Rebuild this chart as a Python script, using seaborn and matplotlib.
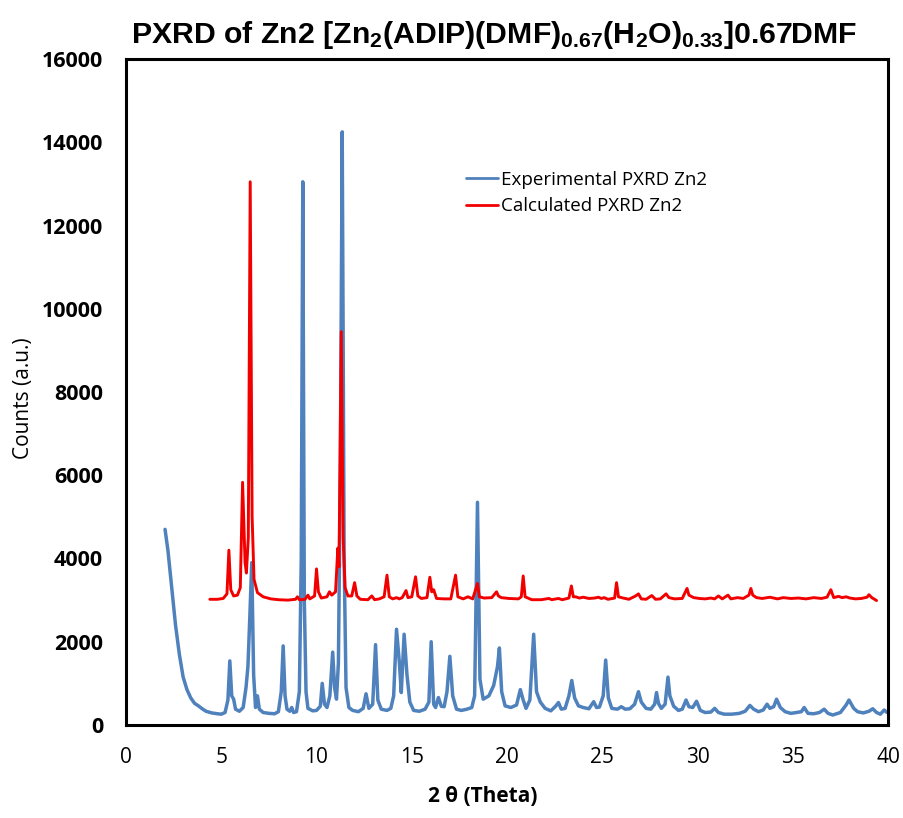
import matplotlib
matplotlib.use('Agg')
import matplotlib.pyplot as plt
import pandas as pd
import seaborn as sns

# experimental pattern (2theta, counts)
exp_x = [2.05, 2.2, 2.4, 2.6, 2.8, 3.0, 3.2, 3.4, 3.6, 3.8, 4.0, 4.2, 4.5, 4.8, 5.0, 5.2, 5.35, 5.45, 5.55, 5.65,
         5.75, 5.95, 6.15, 6.3, 6.4, 6.5, 6.6, 6.7, 6.8, 6.9, 7.0, 7.2, 7.5, 7.8, 8.0, 8.15, 8.25, 8.35, 8.45, 8.6,
         8.7, 8.8, 8.95, 9.1, 9.2, 9.28, 9.36, 9.45, 9.55, 9.8, 10.0, 10.2, 10.3, 10.42, 10.55, 10.7, 10.85, 10.95, 11.05, 11.15,
         11.25, 11.35, 11.45, 11.55, 11.7, 11.9, 12.2, 12.45, 12.6, 12.75, 12.95, 13.1, 13.22, 13.4, 13.7, 13.9, 14.05, 14.2, 14.35, 14.45,
         14.6, 14.75, 14.9, 15.1, 15.4, 15.7, 15.9, 16.02, 16.15, 16.25, 16.4, 16.55, 16.7, 16.85, 17.0, 17.15, 17.35, 17.6, 17.9, 18.15,
         18.3, 18.45, 18.58, 18.75, 19.05, 19.3, 19.5, 19.6, 19.72, 19.9, 20.2, 20.5, 20.7, 20.85, 21.0, 21.2, 21.4, 21.55, 21.75, 22.0,
         22.3, 22.55, 22.7, 22.85, 23.05, 23.25, 23.4, 23.55, 23.75, 24.0, 24.3, 24.55, 24.7, 24.85, 25.05, 25.18, 25.32, 25.5, 25.8, 26.0,
         26.2, 26.45, 26.7, 26.9, 27.05, 27.3, 27.55, 27.75, 27.85, 27.95, 28.1, 28.3, 28.45, 28.55, 28.75, 29.0, 29.2, 29.4, 29.55, 29.75,
         29.95, 30.15, 30.4, 30.7, 30.9, 31.1, 31.4, 31.8, 32.2, 32.5, 32.75, 32.95, 33.2, 33.45, 33.65, 33.8, 34.0, 34.15, 34.35, 34.6,
         34.9, 35.2, 35.45, 35.6, 35.8, 36.1, 36.4, 36.65, 36.85, 37.1, 37.5, 37.8, 37.95, 38.2, 38.4, 38.7, 39.0, 39.2, 39.4, 39.6,
         39.8, 39.95]
exp_y = [4700, 4200, 3300, 2400, 1700, 1150, 850, 650, 520, 460, 390, 330, 290, 270, 260, 300, 600, 1540, 700, 620,
         380, 330, 420, 900, 1400, 2600, 3900, 1200, 420, 700, 380, 300, 280, 270, 320, 800, 1900, 700, 380, 330,
         420, 300, 320, 800, 4000, 13050, 3000, 800, 400, 340, 350, 450, 1000, 500, 420, 700, 1750, 900, 620, 1500,
         6000, 14250, 4000, 900, 420, 350, 320, 400, 750, 400, 500, 1930, 600, 380, 350, 400, 700, 2300, 1500, 780,
         2180, 1200, 550, 350, 330, 380, 550, 2000, 500, 420, 660, 450, 440, 800, 1650, 700, 380, 350, 380, 420,
         700, 5350, 1100, 620, 700, 950, 1400, 1850, 800, 460, 420, 480, 850, 600, 400, 600, 2180, 800, 550, 400,
         340, 450, 540, 380, 400, 700, 1070, 650, 460, 420, 390, 560, 420, 430, 700, 1560, 650, 400, 380, 440,
         380, 390, 500, 800, 550, 400, 380, 500, 780, 520, 400, 500, 1150, 700, 450, 350, 380, 600, 440, 420,
         570, 350, 300, 310, 400, 300, 260, 260, 280, 330, 470, 380, 320, 360, 500, 400, 440, 620, 420, 320,
         280, 300, 320, 420, 280, 270, 300, 380, 280, 240, 300, 480, 600, 400, 320, 290, 330, 390, 300, 260,
         360, 300]

# calculated pattern, offset by about 3000 counts
calc_x = [4.4, 4.8, 5.1, 5.3, 5.4, 5.5, 5.65, 5.85, 6.0, 6.12, 6.25, 6.32, 6.42, 6.52, 6.62, 6.72, 6.9, 7.2, 7.6, 8.0,
          8.5, 8.9, 9.0, 9.1, 9.4, 9.55, 9.65, 9.9, 10.0, 10.1, 10.25, 10.55, 10.68, 10.8, 11.0, 11.12, 11.18, 11.3, 11.4, 11.5,
          11.65, 11.85, 12.0, 12.12, 12.3, 12.7, 12.9, 13.05, 13.3, 13.55, 13.7, 13.82, 14.0, 14.2, 14.35, 14.5, 14.7, 14.8, 15.0, 15.2,
          15.32, 15.5, 15.8, 15.95, 16.05, 16.15, 16.3, 16.7, 17.05, 17.3, 17.42, 17.7, 17.95, 18.2, 18.45, 18.55, 18.8, 19.2, 19.45, 19.55,
          19.7, 20.1, 20.6, 20.75, 20.85, 20.95, 21.3, 21.8, 22.2, 22.35, 22.7, 22.9, 23.25, 23.38, 23.48, 23.6, 23.8, 24.0, 24.3, 24.6,
          24.8, 24.95, 25.1, 25.3, 25.65, 25.75, 25.85, 26.1, 26.4, 26.75, 26.9, 27.05, 27.3, 27.6, 27.8, 28.05, 28.35, 28.5, 28.8, 29.2,
          29.45, 29.55, 29.8, 30.1, 30.4, 30.7, 30.9, 31.1, 31.3, 31.6, 31.75, 32.1, 32.4, 32.7, 32.8, 32.9, 33.1, 33.4, 33.8, 34.2,
          34.5, 34.9, 35.3, 35.7, 36.1, 36.5, 36.8, 37.0, 37.15, 37.4, 37.6, 37.8, 38.0, 38.3, 38.6, 38.9, 39.0, 39.15, 39.4]
calc_y = [3020, 3020, 3040, 3150, 4200, 3250, 3100, 3120, 3300, 5830, 3900, 3650, 4500, 13050, 5000, 3500, 3180, 3080, 3030, 3010,
          3000, 3020, 3080, 3010, 3020, 3120, 3030, 3100, 3750, 3200, 3050, 3080, 3200, 3120, 3200, 4250, 3800, 9450, 4500, 3300,
          3100, 3100, 3420, 3100, 3020, 3010, 3100, 3010, 3030, 3080, 3600, 3080, 3030, 3060, 3030, 3060, 3230, 3060, 3080, 3560,
          3100, 3040, 3060, 3550, 3200, 3250, 3040, 3030, 3030, 3600, 3080, 3030, 3080, 3030, 3400, 3080, 3050, 3060, 3200, 3100,
          3060, 3040, 3030, 3080, 3580, 3080, 3010, 3010, 3040, 3010, 3040, 3010, 3050, 3340, 3080, 3080, 3050, 3070, 3040, 3050,
          3070, 3040, 3060, 3020, 3050, 3420, 3080, 3050, 3020, 3100, 3150, 3030, 3020, 3110, 3020, 3030, 3150, 3060, 3030, 3040,
          3280, 3120, 3060, 3040, 3030, 3050, 3030, 3100, 3030, 3120, 3030, 3060, 3040, 3120, 3280, 3120, 3060, 3040, 3070, 3030,
          3060, 3040, 3050, 3030, 3060, 3040, 3070, 3250, 3060, 3090, 3060, 3080, 3050, 3030, 3040, 3070, 3130, 3060, 2990]

x_ticks = [0, 5, 10, 15, 20, 25, 30, 35, 40]
y_ticks = [0, 2000, 4000, 6000, 8000, 10000, 12000, 14000, 16000]

exp_df = pd.DataFrame({'theta': exp_x, 'counts': exp_y})
calc_df = pd.DataFrame({'theta': calc_x, 'counts': calc_y})

sns.set_style('white')
plt.rcParams['font.family'] = ['Open Sans', 'DejaVu Sans']
plt.rcParams['text.color'] = 'black'
plt.rcParams['mathtext.fontset'] = 'custom'
plt.rcParams['mathtext.rm'] = 'Liberation Sans:bold'
plt.rcParams['mathtext.default'] = 'rm'

fig = plt.figure(figsize=(9.04, 8.18), dpi=100)
ax = fig.add_axes([126/904, 1-725/818, 762/904, 666/818])

sns.lineplot(data=exp_df, x='theta', y='counts', ax=ax, color='#4F81BD', lw=2.5,
             label='Experimental PXRD Zn2', estimator=None)
sns.lineplot(data=calc_df, x='theta', y='counts', ax=ax, color='#F20000', lw=2.1,
             label='Calculated PXRD Zn2', estimator=None)

ax.set_xlim(0, 40)
ax.set_ylim(0, 16000)
ax.set_xticks(x_ticks)
ax.set_yticks(y_ticks)
ax.set_xlabel('')
ax.set_ylabel('')
for s in ax.spines.values():
    s.set_linewidth(2.2)
    s.set_color('black')
ax.tick_params(axis='x', direction='out', length=6, width=2, pad=10, labelsize=15, colors='black')
ax.tick_params(axis='y', direction='out', length=4.5, width=2, pad=12, colors='black')
for t in ax.get_yticklabels():
    t.set_fontsize(15.5)
    t.set_fontweight('bold')

leg = ax.legend(frameon=False, loc='upper left', bbox_to_anchor=(0.446, 0.832),
                borderpad=0, borderaxespad=0, handlelength=1.7, handletextpad=0.15,
                labelspacing=0.45, prop={'family': 'Open Sans', 'size': 13.5})
for line in leg.get_lines():
    line.set_linewidth(2.0)
for t in leg.get_texts():
    t.set_color('black')

fig.text(494/904, 1-35/818,
         r'PXRD of Zn2 [Zn$_2$(ADIP)(DMF)$_{0.67}$(H$_2$O)$_{0.33}$]0.67DMF',
         ha='center', va='center', fontsize=21.8, fontweight='bold', family='Liberation Sans')
fig.text(24/904, 1-398/818, 'Counts (a.u.)', rotation=90, ha='center', va='center', fontsize=15)
fig.text(483/904, 1-796/818, '2 \u03b8 (Theta)', ha='center', va='center', fontsize=15, fontweight='bold')

fig.savefig('out.png', dpi=100)
